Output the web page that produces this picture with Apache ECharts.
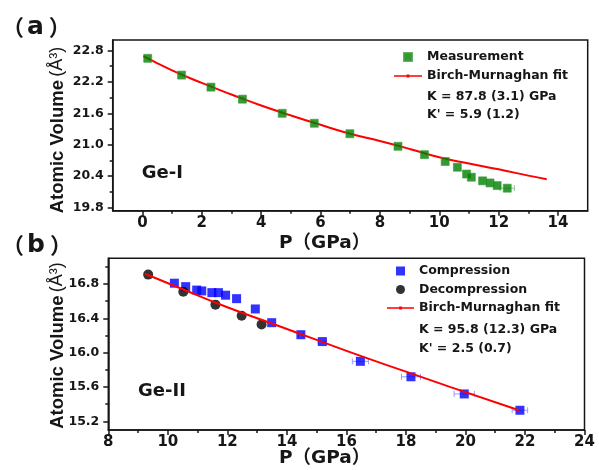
<!DOCTYPE html>
<html>
<head>
<meta charset="utf-8">
<script src="https://cdn.jsdelivr.net/npm/echarts@6/dist/echarts.min.js"></script>
<style>
  html, body { margin: 0; padding: 0; background: #fff; }
  #chart { width: 599px; height: 470px; }
</style>
</head>
<body>
<div id="chart"></div>
<script>
// ---- Panel (a): Ge-I ----
const measP   = [0.18, 1.32, 2.31, 3.37, 4.71, 5.79, 6.99, 8.61, 9.50, 10.20, 10.61, 10.92, 11.08, 11.46, 11.71, 11.95, 12.29];
const measV   = [22.65, 22.33, 22.10, 21.87, 21.60, 21.41, 21.21, 20.97, 20.81, 20.68, 20.57, 20.44, 20.38, 20.31, 20.27, 20.22, 20.17];
const measErr = [0, 0, 0, 0, 0, 0, 0, 0, 0, 0, 0, 0, 0, 0, 0, 0, 0.24];
const fitAP   = [0.03, 1, 2, 3, 4, 5, 6, 7, 8, 9, 10, 11, 12, 13, 13.62];
const fitAV   = [22.69, 22.42, 22.18, 21.96, 21.75, 21.56, 21.38, 21.21, 21.07, 20.92, 20.76, 20.64, 20.53, 20.41, 20.34];

// ---- Panel (b): Ge-II ----
const compP   = [10.22, 10.60, 10.97, 11.14, 11.48, 11.70, 11.94, 12.31, 12.94, 13.49, 14.47, 15.19, 16.47, 18.17, 19.96, 21.83];
const compV   = [16.81, 16.77, 16.73, 16.72, 16.70, 16.70, 16.67, 16.63, 16.51, 16.35, 16.21, 16.13, 15.90, 15.72, 15.52, 15.33];
const compErr = [0, 0, 0, 0, 0, 0, 0, 0, 0, 0, 0.08, 0.14, 0.27, 0.32, 0.34, 0.26];
const decP    = [9.34, 10.52, 11.60, 12.48, 13.15];
const decV    = [16.91, 16.71, 16.56, 16.43, 16.33];
const fitBP   = [9.23, 10.5, 12, 13.5, 15, 16.5, 18, 19.5, 21.8];
const fitBV   = [16.92, 16.74, 16.53, 16.34, 16.15, 15.96, 15.78, 15.60, 15.33];

// ---- Tick positions ----
const xTicksA = [0, 2, 4, 6, 8, 10, 12, 14];
const xMinorA = [1, 3, 5, 7, 9, 11, 13];
const yTicksA = [19.8, 20.4, 21.0, 21.6, 22.2, 22.8];
const yMinorA = [20.1, 20.7, 21.3, 21.9, 22.5];
const xTicksB = [8, 10, 12, 14, 16, 18, 20, 22, 24];
const xMinorB = [9, 11, 13, 15, 17, 19, 21, 23];
const yTicksB = [15.2, 15.6, 16.0, 16.4, 16.8];
const yMinorB = [15.4, 15.8, 16.2, 16.6, 17.0];

// ---- Text ----
const fitText = ['K = 87.8 (3.1) GPa', "K' = 5.9 (1.2)"];
const fitTextB = ['K = 95.8 (12.3) GPa', "K' = 2.5 (0.7)"];

const INK = '#161616';
const FONT = "'DejaVu Sans', 'Noto Sans CJK SC', sans-serif";
const TITLE_FONT = "'Liberation Sans', Arial, sans-serif";

// Legend icons: a square kept at its own aspect, and a thin line with a small dot
const SQUARE_ICON = 'path://M0,0H10V10H0Z';
const FIT_ICON = 'path://M0,3.7H12.6V3H15.4V3.7H28V5.3H15.4V6H12.6V5.3H0Z';

const zip = (a, b) => a.map((v, i) => [v, b[i]]);
const withErr = (p, v, e) => p.map((x, i) => [x, v[i], e[i]]).filter(d => d[2] > 0);

function mainAxis(gridIndex, min, max, ticks, isX, fontSize, margin) {
  return {
    type: 'value', gridIndex, min, max,
    position: isX ? 'bottom' : 'left',
    splitLine: { show: false },
    axisLine: { show: true, onZero: false, lineStyle: { color: INK, width: 1.5 } },
    axisTick: { show: true, inside: false, length: 5, customValues: ticks, lineStyle: { color: INK, width: 1.5 } },
    axisLabel: {
      customValues: ticks, margin,
      formatter: v => isX ? String(Math.round(v)) : Number(v).toFixed(1),
      color: INK, fontFamily: FONT, fontWeight: 'bold', fontSize
    }
  };
}
function minorAxis(gridIndex, min, max, ticks, isX) {
  return {
    type: 'value', gridIndex, min, max,
    position: isX ? 'bottom' : 'left',
    splitLine: { show: false },
    axisLine: { show: false, onZero: false },
    axisTick: { show: true, inside: false, length: 3, customValues: ticks, lineStyle: { color: INK, width: 1.5 } },
    axisLabel: { show: false }
  };
}

function errorBarItem(params, api) {
  const x = api.value(0), y = api.value(1), e = api.value(2);
  const lo = api.coord([x - e, y]);
  const hi = api.coord([x + e, y]);
  const style = { stroke: api.visual('color'), lineWidth: 1 };
  const cap = 3;
  return {
    type: 'group',
    children: [
      { type: 'line', shape: { x1: lo[0], y1: lo[1], x2: hi[0], y2: hi[1] }, style },
      { type: 'line', shape: { x1: lo[0], y1: lo[1] - cap, x2: lo[0], y2: lo[1] + cap }, style },
      { type: 'line', shape: { x1: hi[0], y1: hi[1] - cap, x2: hi[0], y2: hi[1] + cap }, style }
    ]
  };
}

function plainText(x, y, text, size, extra) {
  return {
    type: 'text', x, y, silent: true,
    style: Object.assign({
      text, fill: INK, fontFamily: FONT, fontWeight: 'bold', fontSize: size,
      align: 'left', verticalAlign: 'middle'
    }, extra || {})
  };
}
function yTitle(x, y) {
  return {
    type: 'text', x, y, rotation: Math.PI / 2, silent: true,
    style: {
      text: '{b|Atomic Volume} {r|(Å³)}',
      align: 'center', verticalAlign: 'middle',
      rich: {
        b: { fill: INK, fontFamily: TITLE_FONT, fontWeight: 'bold', fontSize: 18.5 },
        r: { fill: INK, fontFamily: TITLE_FONT, fontWeight: 'normal', fontSize: 18 }
      }
    }
  };
}
function xTitle(x, y) {
  return {
    type: 'text', x, y, silent: true,
    style: {
      text: '{p|P}{u|（GPa）}',
      align: 'left', verticalAlign: 'middle',
      rich: {
        p: { fill: INK, fontFamily: FONT, fontWeight: 'bold', fontSize: 18.5 },
        u: { fill: INK, fontFamily: FONT, fontWeight: 'bold', fontSize: 18.5 }
      }
    }
  };
}
function panelLabel(x, y, letter) {
  return {
    type: 'text', x, y, silent: true,
    style: {
      text: '{p|（}{a|' + letter + '}{p|）}',
      align: 'left', verticalAlign: 'middle',
      rich: {
        p: { fill: INK, fontFamily: "'Noto Sans CJK SC', sans-serif", fontWeight: 'bold', fontSize: 22 },
        a: { fill: INK, fontFamily: FONT, fontWeight: 'bold', fontSize: 25, padding: [0, 5, 0, 3] }
      }
    }
  };
}

const chart = echarts.init(document.getElementById('chart'), null, { renderer: 'canvas' });

chart.setOption({
  backgroundColor: '#ffffff',
  animation: false,
  grid: [
    { left: 112.7, top: 40, width: 475, height: 170.7, show: true, borderColor: INK, borderWidth: 1.5, containLabel: false },
    { left: 108.3, top: 258.3, width: 476.2, height: 171.7, show: true, borderColor: INK, borderWidth: 1.5, containLabel: false }
  ],
  xAxis: [
    mainAxis(0, -1, 15, xTicksA, true, 15, 5),
    minorAxis(0, -1, 15, xMinorA, true),
    mainAxis(1, 8, 24, xTicksB, true, 15, 5),
    minorAxis(1, 8, 24, xMinorB, true)
  ],
  yAxis: [
    mainAxis(0, 19.74, 23.0, yTicksA, false, 12.5, 9),
    minorAxis(0, 19.74, 23.0, yMinorA, false),
    mainAxis(1, 15.1, 17.1, yTicksB, false, 12.5, 9),
    minorAxis(1, 15.1, 17.1, yMinorB, false)
  ],
  legend: [
    {
      left: 394, top: 50, orient: 'vertical', padding: 0,
      itemWidth: 28, itemHeight: 8, itemGap: 5, selectedMode: false,
      textStyle: { color: INK, fontFamily: FONT, fontWeight: 'bold', fontSize: 12.5, lineHeight: 14 },
      data: [
        { name: 'Measurement', icon: SQUARE_ICON },
        { name: 'Birch-Murnaghan fit', icon: FIT_ICON }
      ]
    },
    {
      left: 387, top: 264, orient: 'vertical', padding: 0,
      itemWidth: 27, itemHeight: 9, itemGap: 4.5, selectedMode: false,
      textStyle: { color: INK, fontFamily: FONT, fontWeight: 'bold', fontSize: 12.5, lineHeight: 14 },
      data: [
        { name: 'Compression', icon: SQUARE_ICON },
        { name: 'Decompression', icon: 'circle' },
        { name: 'Birch-Murnaghan fit ', icon: FIT_ICON }
      ]
    }
  ],
  series: [
    {
      name: 'Measurement error', type: 'custom', xAxisIndex: 0, yAxisIndex: 0,
      renderItem: errorBarItem, encode: { x: 0, y: 1 },
      itemStyle: { color: '#8cc98c' }, z: 1, silent: true,
      data: withErr(measP, measV, measErr)
    },
    {
      name: 'Birch-Murnaghan fit', type: 'line', xAxisIndex: 0, yAxisIndex: 0,
      smooth: true, symbol: 'circle', symbolSize: 3, showSymbol: false,
      lineStyle: { color: '#ff0000', width: 2 }, itemStyle: { color: '#ff0000' },
      z: 2, data: zip(fitAP, fitAV)
    },
    {
      name: 'Measurement', type: 'scatter', xAxisIndex: 0, yAxisIndex: 0,
      symbol: 'rect', symbolSize: 8,
      itemStyle: { color: '#007f00', borderColor: '#3f9f3f', borderWidth: 0.8 },
      z: 3, data: zip(measP, measV)
    },
    {
      name: 'Compression error', type: 'custom', xAxisIndex: 2, yAxisIndex: 2,
      renderItem: errorBarItem, encode: { x: 0, y: 1 },
      itemStyle: { color: '#9a9aff' }, z: 1, silent: true,
      data: withErr(compP, compV, compErr)
    },
    {
      name: 'Compression', type: 'scatter', xAxisIndex: 2, yAxisIndex: 2,
      symbol: 'rect', symbolSize: 9,
      itemStyle: { color: '#0000ff' },
      z: 3, data: zip(compP, compV)
    },
    {
      name: 'Decompression', type: 'scatter', xAxisIndex: 2, yAxisIndex: 2,
      symbol: 'circle', symbolSize: 10,
      itemStyle: { color: '#000000' },
      z: 3, data: zip(decP, decV)
    },
    {
      name: 'Birch-Murnaghan fit ', type: 'line', xAxisIndex: 2, yAxisIndex: 2,
      smooth: true, symbol: 'circle', symbolSize: 3, showSymbol: false,
      lineStyle: { color: '#ff0000', width: 2 }, itemStyle: { color: '#ff0000' },
      z: 4, data: zip(fitBP, fitBV)
    }
  ],
  graphic: [
    panelLabel(2, 27, 'a'),
    panelLabel(2, 245, 'b'),
    yTitle(57.5, 130),
    yTitle(57.5, 345.5),
    xTitle(279, 243),
    xTitle(279, 458),
    plainText(141.7, 173.3, 'Ge-I', 18),
    plainText(138, 391.7, 'Ge-II', 18),
    plainText(427, 97, fitText[0], 12.5),
    plainText(427, 115, fitText[1], 12.5),
    plainText(419, 329.3, fitTextB[0], 12.5),
    plainText(419, 348.3, fitTextB[1], 12.5)
  ]
});
</script>
</body>
</html>
